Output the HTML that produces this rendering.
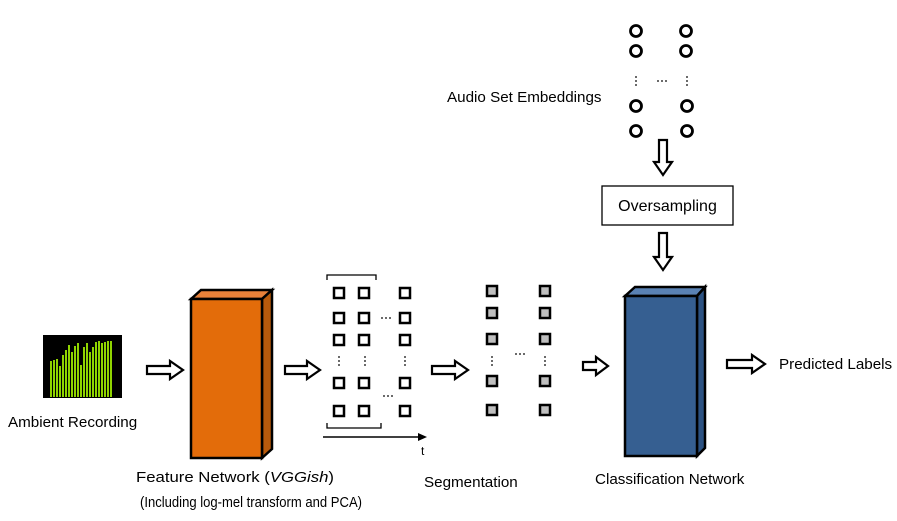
<!DOCTYPE html>
<html><head><meta charset="utf-8"><style>
html,body{margin:0;padding:0;background:#fff}
svg{display:block}
text{font-family:"Liberation Sans",sans-serif;font-size:15.2px;fill:#000}
</style></head><body>
<svg width="897" height="521" viewBox="0 0 897 521" xmlns="http://www.w3.org/2000/svg">
<rect x="43" y="335" width="79" height="63" fill="#000"/>
<g fill="#8fd400">
<rect x="50" y="361" width="2" height="36"/><rect x="53" y="360" width="2" height="37"/><rect x="56" y="359" width="2" height="38"/>
<rect x="59" y="366" width="2" height="31"/><rect x="62" y="355" width="2" height="42"/><rect x="65" y="350" width="2" height="47"/>
<rect x="68" y="345" width="2" height="52"/><rect x="71" y="352" width="2" height="45"/><rect x="74" y="346" width="2" height="51"/>
<rect x="77" y="343" width="2" height="54"/><rect x="80" y="365" width="2" height="32"/><rect x="83" y="347" width="2" height="50"/>
<rect x="86" y="343" width="2" height="54"/><rect x="89" y="352" width="2" height="45"/><rect x="92" y="347" width="2" height="50"/>
<rect x="95" y="342" width="2" height="55"/><rect x="98" y="341" width="2" height="56"/><rect x="101" y="343" width="2" height="54"/>
<rect x="104" y="342" width="2" height="55"/><rect x="107" y="341" width="2" height="56"/><rect x="110" y="341" width="2" height="56"/>
</g>
<text x="8" y="427">Ambient Recording</text>
<g fill="#fff" stroke="#000" stroke-width="2.2" stroke-linejoin="miter">
<polygon points="147,366 170,366 170,361 183,370 170,379 170,374 147,374"/>
<polygon points="285,366 307,366 307,361 320,370 307,379 307,374 285,374"/>
<polygon points="432,366 455,366 455,361 468,370 455,379 455,374 432,374"/>
<polygon points="583,362 596,362 596,357 608,366 596,375 596,370 583,370"/>
<polygon points="727,360 752,360 752,355 765,364 752,373 752,368 727,368"/>
<polygon points="659,140 667,140 667,162 672,162 663,175 654,162 659,162"/>
<polygon points="659,233 667,233 667,257 672,257 663,270 654,257 659,257"/>
</g>
<g stroke="#000" stroke-width="2.5" stroke-linejoin="miter">
<polygon points="191,299 201,290 272,290 262,299" fill="#e8813a"/>
<polygon points="262,299 272,290 272,449 262,458" fill="#b85a0c"/>
<rect x="191" y="299" width="71" height="159" fill="#e36c0a"/>
<polygon points="625,296 635,287 705,287 697,296" fill="#5a82b4"/>
<polygon points="697,296 705,287 705,448 697,456" fill="#2c5282"/>
<rect x="625" y="296" width="72" height="160" fill="#365f91"/>
</g>
<text x="136" y="482" textLength="198" lengthAdjust="spacingAndGlyphs" style="font-size:15px">Feature Network (<tspan font-style="italic">VGGish</tspan>)</text>
<text x="140" y="507" textLength="222" lengthAdjust="spacingAndGlyphs" style="font-size:15px">(Including log-mel transform and PCA)</text>
<g fill="#fff" stroke="#000" stroke-width="2.5">
<rect x="334" y="288" width="10" height="10"/><rect x="359" y="288" width="10" height="10"/><rect x="400" y="288" width="10" height="10"/>
<rect x="334" y="313" width="10" height="10"/><rect x="359" y="313" width="10" height="10"/><rect x="400" y="313" width="10" height="10"/>
<rect x="334" y="335" width="10" height="10"/><rect x="359" y="335" width="10" height="10"/><rect x="400" y="335" width="10" height="10"/>
<rect x="334" y="378" width="10" height="10"/><rect x="359" y="378" width="10" height="10"/><rect x="400" y="378" width="10" height="10"/>
<rect x="334" y="406" width="10" height="10"/><rect x="359" y="406" width="10" height="10"/><rect x="400" y="406" width="10" height="10"/>
</g>
<g fill="#bfbfbf" stroke="#000" stroke-width="2.5">
<rect x="487" y="286" width="10" height="10"/><rect x="540" y="286" width="10" height="10"/>
<rect x="487" y="308" width="10" height="10"/><rect x="540" y="308" width="10" height="10"/>
<rect x="487" y="334" width="10" height="10"/><rect x="540" y="334" width="10" height="10"/>
<rect x="487" y="376" width="10" height="10"/><rect x="540" y="376" width="10" height="10"/>
<rect x="487" y="405" width="10" height="10"/><rect x="540" y="405" width="10" height="10"/>
</g>
<g fill="#000">
<circle cx="339" cy="357" r="0.9"/><circle cx="339" cy="361" r="0.9"/><circle cx="339" cy="365" r="0.9"/>
<circle cx="365" cy="357" r="0.9"/><circle cx="365" cy="361" r="0.9"/><circle cx="365" cy="365" r="0.9"/>
<circle cx="405" cy="357" r="0.9"/><circle cx="405" cy="361" r="0.9"/><circle cx="405" cy="365" r="0.9"/>
<circle cx="382" cy="318" r="0.9"/><circle cx="386" cy="318" r="0.9"/><circle cx="390" cy="318" r="0.9"/>
<circle cx="384" cy="396" r="0.9"/><circle cx="388" cy="396" r="0.9"/><circle cx="392" cy="396" r="0.9"/>
<circle cx="492" cy="357" r="0.9"/><circle cx="492" cy="361" r="0.9"/><circle cx="492" cy="365" r="0.9"/>
<circle cx="545" cy="357" r="0.9"/><circle cx="545" cy="361" r="0.9"/><circle cx="545" cy="365" r="0.9"/>
<circle cx="516" cy="354" r="0.9"/><circle cx="520" cy="354" r="0.9"/><circle cx="524" cy="354" r="0.9"/>
<circle cx="636" cy="77" r="0.9"/><circle cx="636" cy="81" r="0.9"/><circle cx="636" cy="85" r="0.9"/>
<circle cx="687" cy="77" r="0.9"/><circle cx="687" cy="81" r="0.9"/><circle cx="687" cy="85" r="0.9"/>
<circle cx="658" cy="81" r="0.9"/><circle cx="662" cy="81" r="0.9"/><circle cx="666" cy="81" r="0.9"/>
</g>
<g fill="none" stroke="#000" stroke-width="1.3">
<polyline points="327,280 327,275 376,275 376,280"/>
<polyline points="327,423 327,428 381,428 381,423"/>
</g>
<line x1="323" y1="437" x2="418" y2="437" stroke="#000" stroke-width="1.5"/>
<polygon points="418,433 427,437 418,441" fill="#000"/>
<text x="421" y="455" style="font-size:12px">t</text>
<text x="424" y="487">Segmentation</text>
<g fill="none" stroke="#000" stroke-width="2.8">
<circle cx="636" cy="31" r="5.5"/><circle cx="686" cy="31" r="5.5"/>
<circle cx="636" cy="51" r="5.5"/><circle cx="686" cy="51" r="5.5"/>
<circle cx="636" cy="106" r="5.5"/><circle cx="687" cy="106" r="5.5"/>
<circle cx="636" cy="131" r="5.5"/><circle cx="687" cy="131" r="5.5"/>
</g>
<text x="447" y="102">Audio Set Embeddings</text>
<rect x="602" y="186" width="131" height="39" fill="#fff" stroke="#000" stroke-width="1.3"/>
<text x="667.5" y="211" text-anchor="middle" style="font-size:16px">Oversampling</text>
<text x="595" y="484">Classification Network</text>
<text x="779" y="369">Predicted Labels</text>
</svg>
</body></html>
